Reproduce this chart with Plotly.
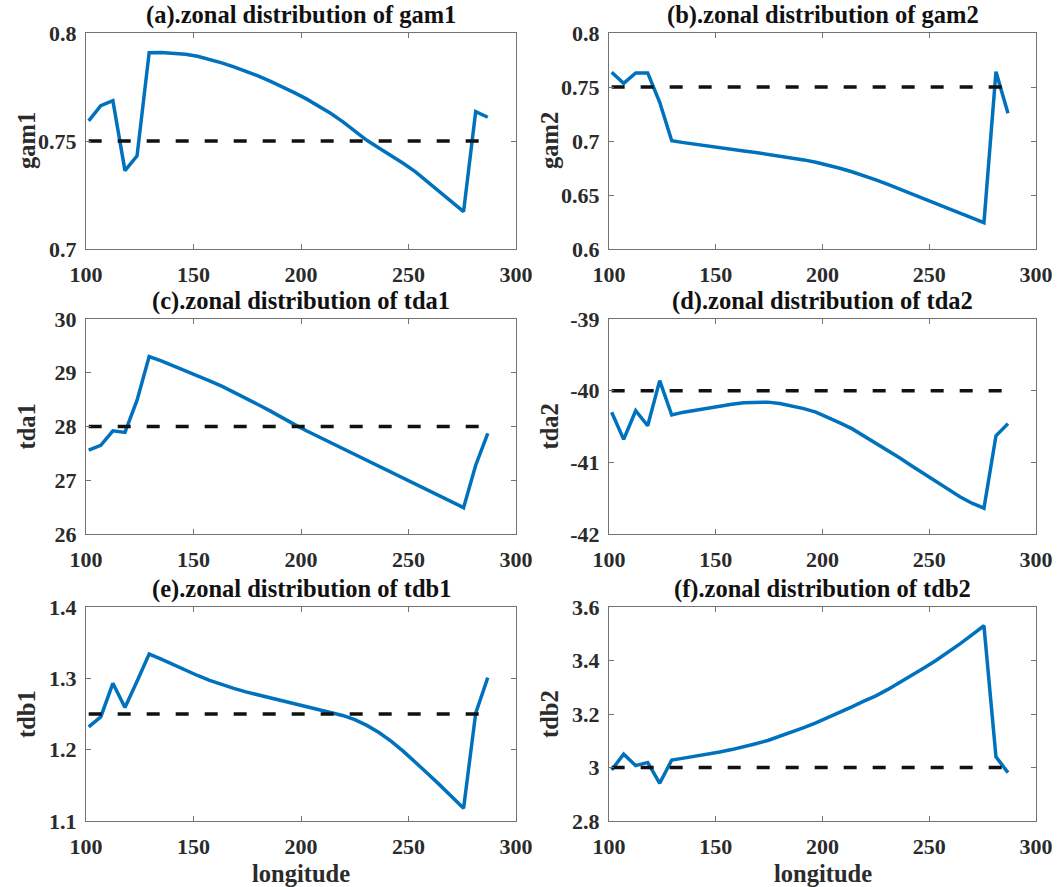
import plotly.graph_objects as go

# Longitude grid (5.625 degree spacing)
lon = [101.25 + 5.625 * i for i in range(34)]

gam1 = [0.7593, 0.7664, 0.7687, 0.7363, 0.7431, 0.7909, 0.7910, 0.7908, 0.7902, 0.7892,
        0.7878, 0.7862, 0.7843, 0.7823, 0.7801, 0.7777, 0.7752, 0.7724, 0.7695, 0.7663,
        0.7628, 0.7590, 0.7548, 0.7503, 0.7468, 0.7433, 0.7397, 0.7358, 0.7313, 0.7267,
        0.7220, 0.7173, 0.7636, 0.7610]
gam2 = [0.7636, 0.7534, 0.7630, 0.7630, 0.7358, 0.7003, 0.6985, 0.6968, 0.6952, 0.6937,
        0.6922, 0.6907, 0.6893, 0.6878, 0.6862, 0.6845, 0.6825, 0.6803, 0.6777, 0.6748,
        0.6715, 0.6679, 0.6640, 0.6598, 0.6555, 0.6511, 0.6467, 0.6422, 0.6377, 0.6333,
        0.6288, 0.6244, 0.7642, 0.7256]
tda1 = [27.56, 27.65, 27.92, 27.89, 28.49, 29.30, 29.22, 29.13, 29.03, 28.94,
        28.85, 28.75, 28.64, 28.53, 28.41, 28.29, 28.16, 28.04, 27.92, 27.81,
        27.71, 27.60, 27.49, 27.38, 27.27, 27.16, 27.04, 26.93, 26.82, 26.71,
        26.60, 26.49, 27.28, 27.87]
tda2 = [-40.30, -40.68, -40.28, -40.49, -39.86, -40.34, -40.30, -40.27, -40.24, -40.21,
        -40.19, -40.17, -40.16, -40.16, -40.18, -40.21, -40.25, -40.30, -40.37, -40.45,
        -40.53, -40.63, -40.73, -40.83, -40.94, -41.05, -41.16, -41.27, -41.38, -41.48,
        -41.57, -41.64, -40.63, -40.46]
tdb1 = [1.232, 1.246, 1.293, 1.259, 1.296, 1.334, 1.327, 1.319, 1.311, 1.304,
        1.297, 1.291, 1.286, 1.281, 1.277, 1.272, 1.268, 1.265, 1.261, 1.257,
        1.253, 1.248, 1.242, 1.234, 1.224, 1.212, 1.198, 1.183, 1.167, 1.151,
        1.135, 1.118, 1.251, 1.301]
tdb2 = [2.991, 3.050, 3.007, 3.019, 2.941, 3.028, 3.035, 3.042, 3.050, 3.058,
        3.067, 3.077, 3.089, 3.101, 3.116, 3.132, 3.149, 3.167, 3.186, 3.206,
        3.227, 3.248, 3.268, 3.292, 3.318, 3.345, 3.372, 3.400, 3.430, 3.462,
        3.496, 3.530, 3.040, 2.981]

# Reference (default) parameter values
ref_values = [0.75, 0.75, 28, -40, 1.25, 3.0]

names = ["gam1", "gam2", "tda1", "tda2", "tdb1", "tdb2"]
letters = ["a", "b", "c", "d", "e", "f"]
series = [gam1, gam2, tda1, tda2, tdb1, tdb2]

x_ticks = [100, 150, 200, 250, 300]
y_ranges = [[0.7, 0.8], [0.6, 0.8], [26, 30], [-42, -39], [1.1, 1.4], [2.8, 3.6]]
y_tickvals = [
    [0.7, 0.75, 0.8],
    [0.6, 0.65, 0.7, 0.75, 0.8],
    [26, 27, 28, 29, 30],
    [-42, -41, -40, -39],
    [1.1, 1.2, 1.3, 1.4],
    [2.8, 3.0, 3.2, 3.4, 3.6],
]
y_ticktext = [
    ["0.7", "0.75", "0.8"],
    ["0.6", "0.65", "0.7", "0.75", "0.8"],
    ["26", "27", "28", "29", "30"],
    ["-42", "-41", "-40", "-39"],
    ["1.1", "1.2", "1.3", "1.4"],
    ["2.8", "3", "3.2", "3.4", "3.6"],
]

W, H = 1060, 887
col_px = [(86, 516), (609, 1036)]
row_px = [(33, 249), (319, 534), (607, 821)]

FONT = "Liberation Serif"
TXT = "#2b2b2b"
AXC = "#737373"
BLUE = "#0072BD"
TICK_SIZE = 22
LABEL_SIZE = 24.5

fig = go.Figure()
annotations = []

for k in range(6):
    r, c = divmod(k, 2)
    xa = "x" if k == 0 else f"x{k+1}"
    ya = "y" if k == 0 else f"y{k+1}"
    x0, x1 = col_px[c]
    t, b = row_px[r]
    xdom = [x0 / W, x1 / W]
    ydom = [1 - b / H, 1 - t / H]

    fig.add_trace(go.Scatter(
        x=lon, y=series[k], mode="lines", xaxis=xa, yaxis=ya,
        line=dict(color=BLUE, width=3.5), showlegend=False,
    ))
    fig.add_trace(go.Scatter(
        x=[lon[0], lon[-1]], y=[ref_values[k]] * 2, mode="lines", xaxis=xa, yaxis=ya,
        line=dict(color="#111111", width=3.5, dash="13px,16px"), showlegend=False,
    ))

    axis_common = dict(
        showline=True, linecolor=AXC, linewidth=1, mirror="ticks",
        ticks="inside", ticklen=5, tickcolor=AXC, showgrid=False, zeroline=False,
        automargin=False,
        tickfont=dict(family=FONT, size=TICK_SIZE, color=TXT, weight="bold"),
    )
    fig.update_layout(**{
        ("xaxis" if k == 0 else f"xaxis{k+1}"): dict(
            domain=xdom, range=[100, 300], tickvals=x_ticks,
            ticktext=[str(v) for v in x_ticks], anchor=ya,
            ticklabelstandoff=6, **axis_common),
        ("yaxis" if k == 0 else f"yaxis{k+1}"): dict(
            domain=ydom, range=y_ranges[k], tickvals=y_tickvals[k],
            ticktext=y_ticktext[k], anchor=xa,
            ticklabelstandoff=4, **axis_common),
    })

    # panel title
    annotations.append(dict(
        text=f"({letters[k]}).zonal distribution of {names[k]}",
        x=(xdom[0] + xdom[1]) / 2, y=ydom[1] + 2 / H, xref="paper", yref="paper",
        xanchor="center", yanchor="bottom", showarrow=False,
        font=dict(family=FONT, size=LABEL_SIZE, color="#111111", weight="bold"),
    ))
    # y-axis label
    annotations.append(dict(
        text=names[k],
        x=(x0 - 60) / W, y=(ydom[0] + ydom[1]) / 2, xref="paper", yref="paper",
        xanchor="center", yanchor="middle", textangle=-90, showarrow=False,
        font=dict(family=FONT, size=LABEL_SIZE, color=TXT, weight="bold"),
    ))
    if r == 2:
        annotations.append(dict(
            text="longitude",
            x=(xdom[0] + xdom[1]) / 2, y=1 - 873 / H, xref="paper", yref="paper",
            xanchor="center", yanchor="middle", showarrow=False,
            font=dict(family=FONT, size=LABEL_SIZE, color=TXT, weight="bold"),
        ))

fig.update_layout(
    width=W, height=H, margin=dict(l=0, r=0, t=0, b=0, autoexpand=False),
    paper_bgcolor="white", plot_bgcolor="white",
    annotations=annotations,
    font=dict(family=FONT, color=TXT),
)

fig.write_html("out.html")
